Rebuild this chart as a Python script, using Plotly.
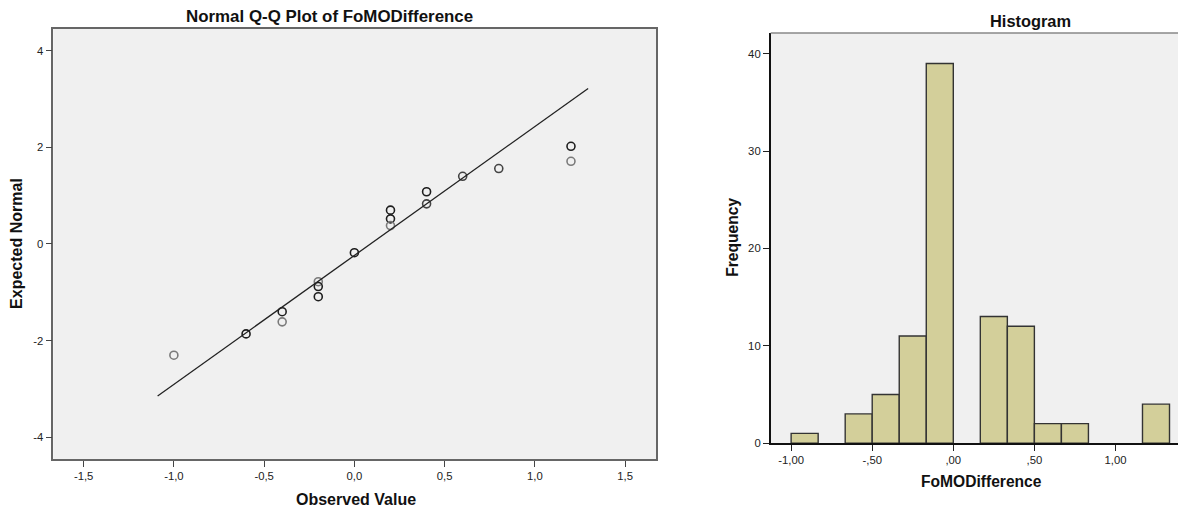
import plotly.graph_objects as go

# ---------------- data ----------------
qq_observed = [-1.0, -0.6, -0.4, -0.4, -0.2, -0.2, -0.2, 0.0, 0.2, 0.2, 0.2, 0.4, 0.4, 0.6, 0.8, 1.2, 1.2]
qq_expected = [-2.30, -1.86, -1.40, -1.61, -0.78, -0.88, -1.09, -0.18, 0.70, 0.52, 0.38, 1.08, 0.83, 1.40, 1.56, 2.02, 1.71]
qq_shade = ["g", "d", "d", "g", "g", "d", "d", "d", "d", "d", "g", "d", "m", "m", "m", "d", "g"]

line_mean = 0.089
line_sd = 0.375
line_x = [-1.09, 1.295]

qq_xticks = [-1.5, -1.0, -0.5, 0.0, 0.5, 1.0, 1.5]
qq_xticklabels = ["-1,5", "-1,0", "-0,5", "0,0", "0,5", "1,0", "1,5"]
qq_yticks = [-4, -2, 0, 2, 4]
qq_yticklabels = ["-4", "-2", "0", "2", "4"]

hist_start = -1.0
hist_width = 1.0 / 6.0
hist_counts = [1, 0, 3, 5, 11, 39, 0, 13, 12, 2, 2, 0, 0, 4]
hist_xticks = [-1.0, -0.5, 0.0, 0.5, 1.0]
hist_xticklabels = ["-1,00", "-,50", ",00", ",50", "1,00"]
hist_yticks = [0, 10, 20, 30, 40]

# ---------------- figure ----------------
# the page body has an 8px margin, so the figure is sized to fill the rest
OFF = 8
W, H = 1186 - OFF, 516 - OFF
FONT = "Liberation Sans, Arial, sans-serif"
shade_col = {"d": "#1e1e1e", "m": "#444444", "g": "#7a7a7a"}

fig = go.Figure()

# Q-Q points
fig.add_trace(go.Scatter(
    x=qq_observed, y=qq_expected, mode="markers",
    marker=dict(symbol="circle-open", size=8,
                color=[shade_col[s] for s in qq_shade],
                line=dict(width=1.6, color=[shade_col[s] for s in qq_shade])),
    xaxis="x", yaxis="y", showlegend=False, hoverinfo="skip"))

# reference line
line_y = [(v - line_mean) / line_sd for v in line_x]
fig.add_trace(go.Scatter(
    x=line_x, y=line_y, mode="lines",
    line=dict(color="#222222", width=1.3),
    xaxis="x", yaxis="y", showlegend=False, hoverinfo="skip"))

# histogram bars
bx, by = [], []
for i, c in enumerate(hist_counts):
    if c > 0:
        bx.append(hist_start + hist_width * (i + 0.5))
        by.append(c)
fig.add_trace(go.Bar(
    x=bx, y=by, width=hist_width,
    marker=dict(color="#d3cf9a", line=dict(color="#333333", width=1.4)),
    xaxis="x2", yaxis="y2", showlegend=False, hoverinfo="skip"))


def px_x(v):
    return (v - OFF) / W


def px_y(v):
    return 1 - (v - OFF) / H


tickfont = dict(family=FONT, size=11.3, color="#222222")

fig.update_layout(
    width=W, height=H,
    margin=dict(l=0, r=0, t=0, b=0),
    paper_bgcolor="white",
    plot_bgcolor="#f0f0f0",
    font=dict(family=FONT, color="#111111"),
    xaxis=dict(domain=[px_x(53.3), px_x(656)], range=[-1.668, 1.671],
               tickvals=qq_xticks, ticktext=qq_xticklabels,
               ticks="outside", ticklen=6, tickwidth=1.3, tickcolor="#444444",
               showline=True, mirror=True, linecolor="#666666", linewidth=1.5,
               showgrid=False, zeroline=False, tickfont=tickfont),
    yaxis=dict(domain=[px_y(464.3), px_y(29.3)], range=[-4.445, 4.445],
               tickvals=qq_yticks, ticktext=qq_yticklabels,
               ticks="outside", ticklen=6, tickwidth=1.3, tickcolor="#444444",
               showline=True, mirror=True, linecolor="#666666", linewidth=1.5,
               showgrid=False, zeroline=False, tickfont=tickfont),
    xaxis2=dict(domain=[px_x(770.7), 1.0], range=[-1.126, 1.435], anchor="y2",
                tickvals=hist_xticks, ticktext=hist_xticklabels,
                ticks="outside", ticklen=6, tickwidth=1.3, tickcolor="#222222",
                showline=True, linecolor="#111111", linewidth=1.5,
                showgrid=False, zeroline=False, tickfont=tickfont),
    yaxis2=dict(domain=[px_y(448.3), px_y(33.3)], range=[0, 42.13], anchor="x2",
                tickvals=hist_yticks, ticks="outside", ticklen=6, tickwidth=1.3,
                tickcolor="#222222",
                showline=True, linecolor="#111111", linewidth=1.5,
                showgrid=False, zeroline=False, tickfont=tickfont),
    shapes=[dict(type="line", xref="paper", yref="paper",
                 x0=px_x(770.7), x1=1.0, y0=px_y(33.3), y1=px_y(33.3),
                 line=dict(color="#888888", width=1.5))],
    annotations=[
        dict(text="<b>Normal Q-Q Plot of FoMODifference</b>", xref="paper", yref="paper",
             x=px_x(329.5), y=px_y(16.3), xanchor="center", yanchor="middle",
             showarrow=False, font=dict(family=FONT, size=16.9, color="#111111")),
        dict(text="<b>Histogram</b>", xref="paper", yref="paper",
             x=px_x(1030), y=px_y(21), xanchor="center", yanchor="middle",
             showarrow=False, font=dict(family=FONT, size=16.4, color="#111111")),
        dict(text="<b>Observed Value</b>", xref="paper", yref="paper",
             x=px_x(355.5), y=px_y(505), xanchor="center", yanchor="middle",
             showarrow=False, font=dict(family=FONT, size=16, color="#111111")),
        dict(text="<b>Expected Normal</b>", xref="paper", yref="paper",
             x=px_x(17), y=px_y(246.7), xanchor="center", yanchor="middle",
             textangle=-90, showarrow=False,
             font=dict(family=FONT, size=16, color="#111111")),
        dict(text="<b>Frequency</b>", xref="paper", yref="paper",
             x=px_x(733), y=px_y(240.5), xanchor="center", yanchor="middle",
             textangle=-90, showarrow=False,
             font=dict(family=FONT, size=15.6, color="#111111")),
        dict(text="<b>FoMODifference</b>", xref="paper", yref="paper",
             x=px_x(981), y=px_y(487), xanchor="center", yanchor="middle",
             showarrow=False, font=dict(family=FONT, size=15.6, color="#111111")),
    ],
)

fig.write_html("out.html")
